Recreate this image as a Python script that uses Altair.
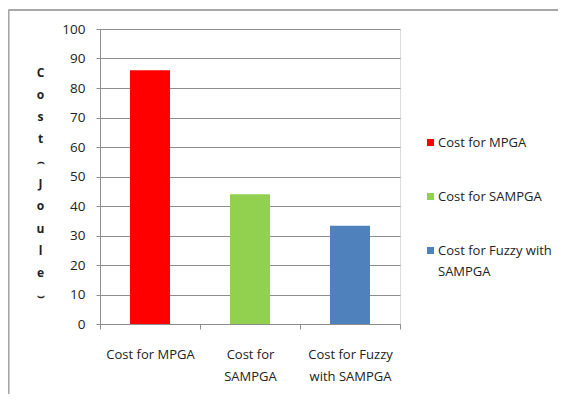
import altair as alt
import pandas as pd

categories = ["Cost for MPGA", "Cost for SAMPGA", "Cost for Fuzzy with SAMPGA"]
values = [86, 44, 33.3]
colors = ["#FF0000", "#92D050", "#4F81BD"]
axis_label_lines = [["Cost for MPGA"], ["Cost for", "SAMPGA"], ["Cost for Fuzzy", "with SAMPGA"]]
legend_label_lines = [["Cost for MPGA"], ["Cost for SAMPGA"], ["Cost for Fuzzy with", "SAMPGA"]]
y_title = ["C", "o", "s", "t", "⌢", "J", "o", "u", "l", "e", "⌣"]
y_ticks = list(range(0, 101, 10))

df = pd.DataFrame({"cat": categories, "value": values})


def label_expr(lines_list):
    expr = "datum.label"
    for cat, lines in zip(categories, lines_list):
        arr = "[" + ",".join("'" + l + "'" for l in lines) + "]"
        expr = f"datum.label == '{cat}' ? {arr} : ({expr})"
    return expr


FONT = "Open Sans"

bars = alt.Chart(df).mark_bar(size=40).encode(
    x=alt.X(
        "cat:N",
        sort=categories,
        scale=alt.Scale(paddingInner=0, paddingOuter=0),
        axis=alt.Axis(
            title=None,
            labelAngle=0,
            labelExpr=label_expr(axis_label_lines),
            labelFont=FONT,
            labelFontSize=13,
            labelColor="#222222",
            labelLineHeight=22,
            labelPadding=19,
            labelBaseline="top",
            tickBand="extent",
            tickSize=5,
            tickColor="#8c8c8c",
            domainColor="#8c8c8c",
            grid=False,
        ),
    ),
    y=alt.Y(
        "value:Q",
        scale=alt.Scale(domain=[0, 100], nice=False),
        axis=alt.Axis(
            values=y_ticks,
            title=y_title,
            titleAngle=0,
            titleFont=FONT,
            titleFontSize=12,
            titleFontWeight="bold",
            titleColor="#222222",
            titleLineHeight=22.3,
            titleAlign="center",
            titleBaseline="middle",
            titleX=-60,
            titleY=43,
            labelFont=FONT,
            labelFontSize=13.5,
            labelColor="#222222",
            labelPadding=11,
            tickSize=4,
            tickColor="#8c8c8c",
            domainColor="#8c8c8c",
            gridColor="#8c8c8c",
            gridWidth=1,
        ),
    ),
    color=alt.Color(
        "cat:N",
        sort=categories,
        scale=alt.Scale(domain=categories, range=colors),
        legend=alt.Legend(
            title=None,
            orient="none",
            legendX=324,
            legendY=107,
            symbolType="square",
            symbolSize=50,
            symbolStrokeWidth=0,
            labelFont=FONT,
            labelFontSize=13,
            labelColor="#222222",
            labelLimit=300,
            labelOffset=1,
            labelExpr=label_expr(legend_label_lines),
            rowPadding=40,
            padding=0,
        ),
    ),
)

frame_top = alt.Chart(df).mark_rule(color="#a6a6a6", strokeWidth=1.5).encode(
    x=alt.value(-91.5),
    x2=alt.value(600),
    y=alt.value(-19),
)
frame_left = alt.Chart(df).mark_rule(color="#a6a6a6", strokeWidth=1.5).encode(
    x=alt.value(-91.5),
    y=alt.value(-19),
    y2=alt.value(500),
)

chart = alt.layer(frame_top, frame_left, bars).properties(
    width=300,
    height=295,
    padding={"left": 92, "top": 21, "right": 158, "bottom": 70},
    autosize="none",
).configure_view(stroke=None).configure(
    background="white",
    style={"guide-label": {"lineHeight": 21}},
)

chart.save("out.html", embed_options={"renderer": "svg", "actions": False})
